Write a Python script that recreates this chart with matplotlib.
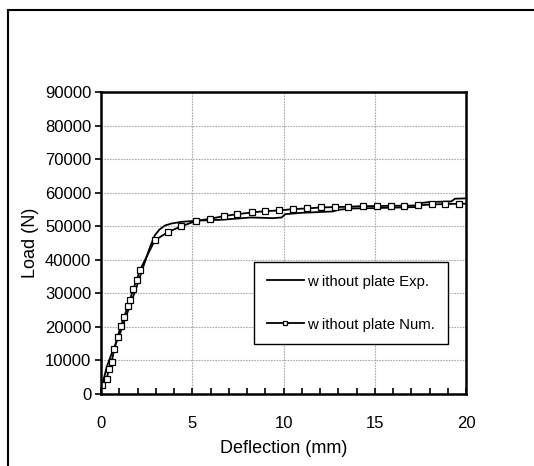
import matplotlib
matplotlib.use("Agg")
import matplotlib.pyplot as plt
from matplotlib.patches import Rectangle

plt.rcParams['font.family'] = ['Liberation Sans', 'DejaVu Sans']

# Experimental load-deflection curve (mm, N)
exp_deflection = [0.0, 0.04, 0.31, 0.58, 1.04, 1.49, 1.95, 2.40, 2.70, 2.95, 3.20,
                  3.50, 3.86, 4.41, 5.14, 5.41, 6.5, 7.5, 8.2, 8.9, 9.4, 9.9, 10.1,
                  11.0, 12.7, 13.0, 13.8, 15.0, 16.5, 17.2, 17.5, 18.0, 19.2, 19.4, 20.0]
exp_load = [1500, 2000, 8000, 12000, 18000, 24900, 31900, 39300, 44000, 47300, 49000,
            50200, 50800, 51300, 51600, 51700, 51900, 52300, 52600, 52500, 52400, 52600,
            53600, 54000, 54400, 54900, 55300, 55400, 55600, 55700, 56900, 57200,
            57400, 58200, 58300]

# Numerical load-deflection curve (mm, N)
num_deflection = [0.04, 0.31, 0.44, 0.58, 0.73, 0.91, 1.09, 1.27, 1.46, 1.58, 1.77,
                  1.95, 2.13, 2.95, 3.68, 4.41, 5.23, 5.96, 6.72, 7.47, 8.27, 9.0,
                  9.78, 10.51, 11.30, 12.06, 12.83, 13.55, 14.33, 15.10, 15.89, 16.61,
                  17.38, 18.13, 18.85, 19.62, 20.0]
num_load = [2540, 4530, 7520, 9500, 13500, 17000, 20400, 22900, 26100, 27900, 31400,
            33900, 36900, 45800, 48300, 50000, 51600, 52200, 53000, 53600, 54100, 54500,
            54700, 55100, 55300, 55600, 55700, 55800, 56000, 56000, 56100, 56100,
            56200, 56500, 56600, 56700, 56700]

x_ticks = [0, 5, 10, 15, 20]
y_ticks = list(range(0, 90001, 10000))

fig = plt.figure(figsize=(5.34, 4.66), dpi=100)
ax = fig.add_axes([101 / 534, (466 - 394) / 466, 365 / 534, (394 - 92) / 466])

ax.plot(exp_deflection, exp_load, color='black', lw=1.3,
        label='w ithout plate Exp.')
ax.plot(num_deflection, num_load, color='black', lw=1.3,
        marker='s', markersize=4.2, markerfacecolor='white',
        markeredgecolor='black', markeredgewidth=0.9,
        markevery=list(range(len(num_deflection) - 1)),
        label='w ithout plate Num.')

ax.set_xlim(0, 20)
ax.set_ylim(0, 90000)
ax.set_xticks(x_ticks)
ax.set_xticks(range(0, 21), minor=True)
ax.set_yticks(y_ticks)
ax.set_xticklabels([str(v) for v in x_ticks])
ax.set_yticklabels([str(v) for v in y_ticks])

ax.grid(True, which='major', color='#ababab', lw=0.8, ls=(0, (1.5, 1)))
ax.set_axisbelow(True)

for side in ['left', 'bottom', 'top', 'right']:
    ax.spines[side].set_linewidth(1.8)
    ax.spines[side].set_color('black')

ax.tick_params(axis='x', which='both', direction='in', length=4, width=1.2,
               labelsize=12, pad=16)
ax.tick_params(axis='y', which='major', direction='out', length=4, width=1.2,
               labelsize=12, pad=3)

ax.set_xlabel('Deflection (mm)', fontsize=13, labelpad=6)
ax.set_ylabel('Load (N)', fontsize=13, labelpad=4)

leg = ax.legend(loc='upper left', bbox_to_anchor=((254 - 101) / 365, (394 - 262) / 302),
                borderaxespad=0, fontsize=10.7, frameon=True, fancybox=False,
                framealpha=1, edgecolor='black', handlelength=2.5,
                handletextpad=0.25, labelspacing=1.95, borderpad=0.85,
                markerscale=0.75)
leg.get_frame().set_linewidth(1.0)

# Outer chart-area border
fig.patches.append(Rectangle((7.5 / 534, -0.5), 2.0, 1.5 - 10 / 466,
                             transform=fig.transFigure, fill=False,
                             edgecolor='black', lw=1.5))

fig.savefig('out.png', dpi=100)
